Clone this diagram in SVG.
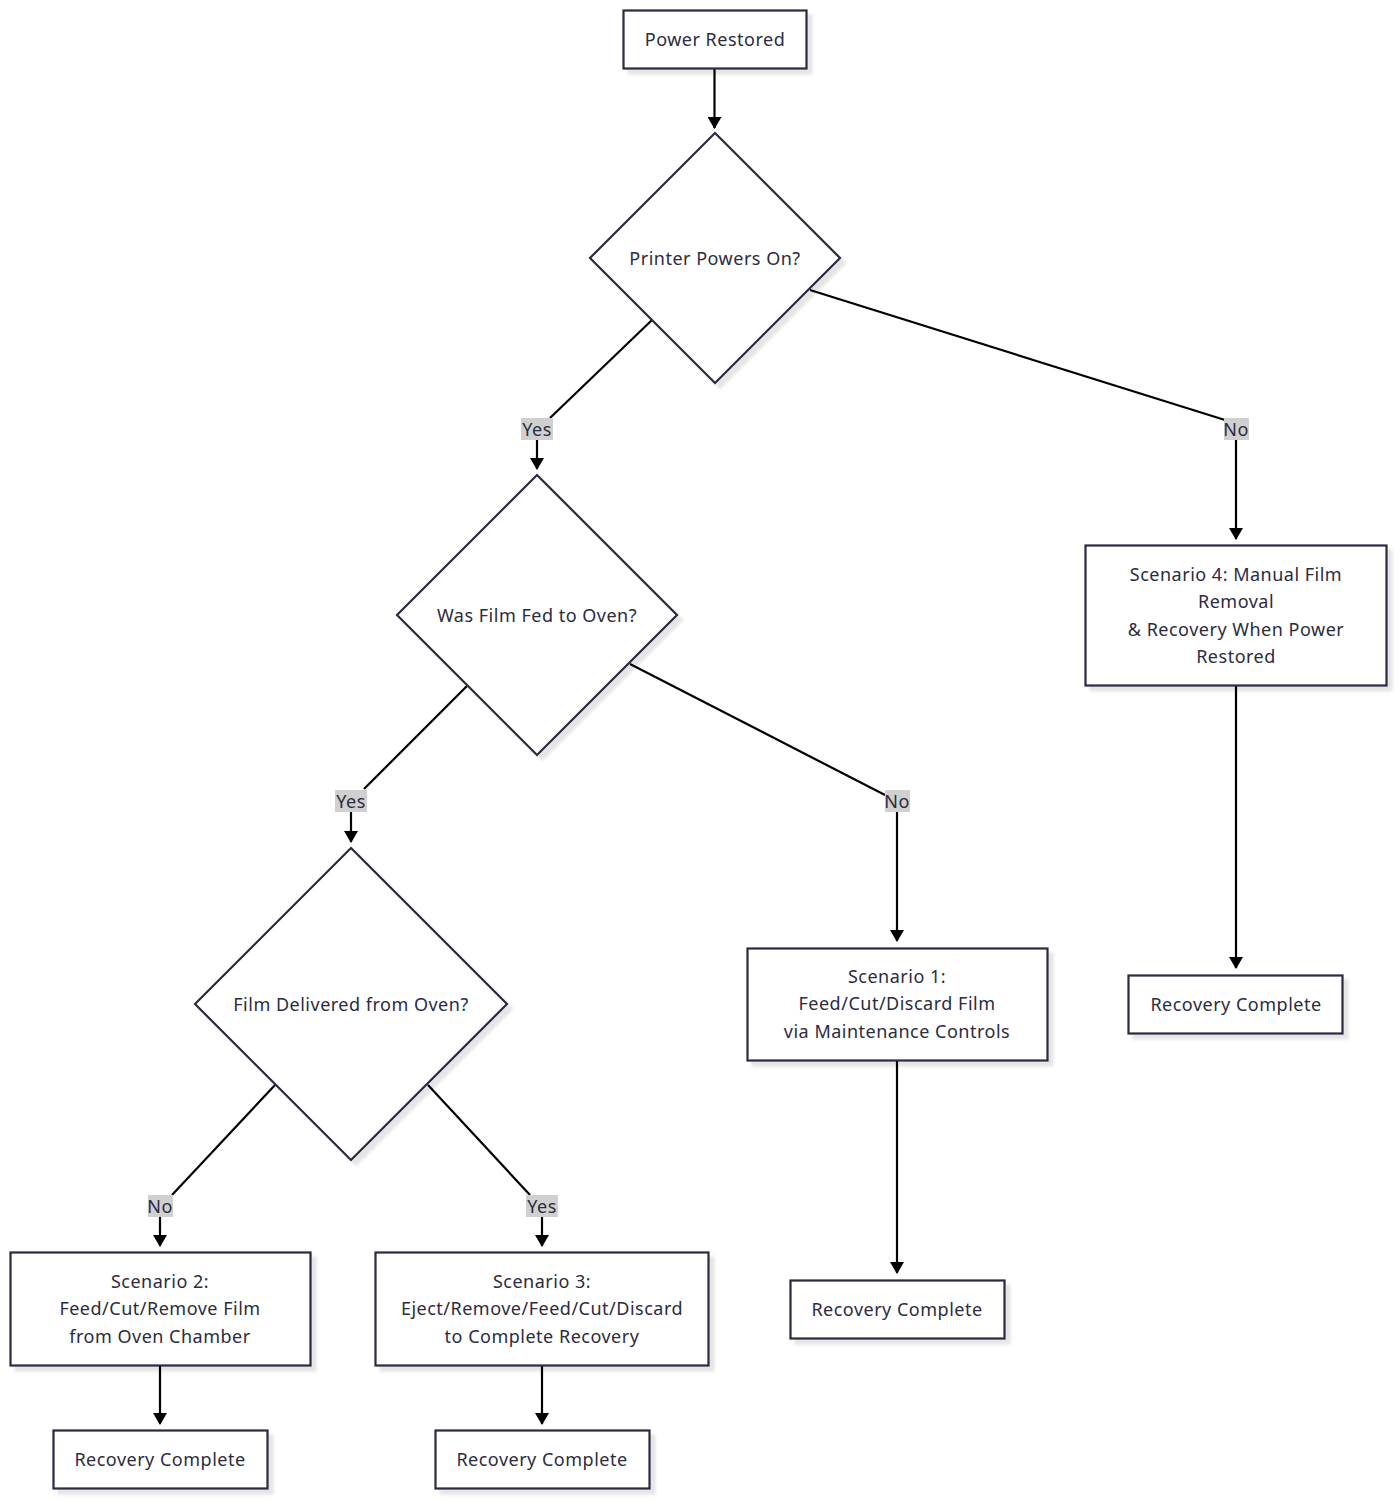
<svg xmlns="http://www.w3.org/2000/svg" width="1400" height="1502" viewBox="0 0 1400 1502">
<style>
.n{fill:#fff;stroke:#2a2940;stroke-width:2.2;filter:url(#sh)}
.t{font-family:"Noto Sans","DejaVu Sans",sans-serif;font-size:18px;letter-spacing:0.5px;fill:#2c2b40;text-anchor:middle;dominant-baseline:central}
.e{fill:none;stroke:#000;stroke-width:2.2}
.lb{fill:#d0d0d0}
</style>
<defs>
<filter id="sh" x="-10%" y="-10%" width="130%" height="130%">
<feDropShadow dx="5" dy="5" stdDeviation="1.5" flood-color="#000" flood-opacity="0.1"/>
</filter>
<marker id="ah" viewBox="0 0 12 14" refX="11" refY="7" markerWidth="12" markerHeight="14" markerUnits="userSpaceOnUse" orient="auto">
<path d="M0,0 L12,7 L0,14 z" fill="#000"/>
</marker>
</defs>
<g id="edges">
<path class="e" d="M714.5,68 V128" marker-end="url(#ah)"/>
<path class="e" d="M652,320 L550,418"/>
<path class="e" d="M537,440 V469" marker-end="url(#ah)"/>
<path class="e" d="M810,290 L1225,420"/>
<path class="e" d="M1236,440 V539" marker-end="url(#ah)"/>
<path class="e" d="M467,686 L364,789"/>
<path class="e" d="M351,812 V842" marker-end="url(#ah)"/>
<path class="e" d="M630,664 L885,795"/>
<path class="e" d="M897,812 V941" marker-end="url(#ah)"/>
<path class="e" d="M1236,685 V968" marker-end="url(#ah)"/>
<path class="e" d="M897,1060 V1273" marker-end="url(#ah)"/>
<path class="e" d="M275,1085 L172,1195"/>
<path class="e" d="M160,1217 V1246" marker-end="url(#ah)"/>
<path class="e" d="M428,1085 L530,1195"/>
<path class="e" d="M542,1217 V1246" marker-end="url(#ah)"/>
<path class="e" d="M160,1365 V1424" marker-end="url(#ah)"/>
<path class="e" d="M542,1365 V1424" marker-end="url(#ah)"/>
</g>
<g id="edge-labels">
<rect class="lb" x="521" y="418" width="32" height="22"/><text class="t" x="537" y="429">Yes</text>
<rect class="lb" x="1224" y="418" width="25" height="22"/><text class="t" x="1236" y="429">No</text>
<rect class="lb" x="335" y="790" width="32" height="22"/><text class="t" x="351" y="801">Yes</text>
<rect class="lb" x="885" y="790" width="25" height="22"/><text class="t" x="897" y="801">No</text>
<rect class="lb" x="148" y="1195" width="25" height="22"/><text class="t" x="160" y="1206">No</text>
<rect class="lb" x="526" y="1195" width="32" height="22"/><text class="t" x="542" y="1206">Yes</text>
</g>
<g id="power-restored"><rect class="n" x="623.5" y="10.5" width="183" height="58"/><text class="t" x="715" y="39">Power Restored</text></g>
<g id="printer-on"><path class="n" d="M715,133 L840,258 L715,383 L590,258 Z"/><text class="t" x="715" y="258">Printer Powers On?</text></g>
<g id="film-fed"><path class="n" d="M537,475 L677,615 L537,755 L397,615 Z"/><text class="t" x="537" y="615">Was Film Fed to Oven?</text></g>
<g id="film-delivered"><path class="n" d="M351,848 L507,1004 L351,1160 L195,1004 Z"/><text class="t" x="351" y="1004">Film Delivered from Oven?</text></g>
<g id="scenario4"><rect class="n" x="1085.5" y="545.5" width="301" height="140"/>
<text class="t" x="1236"><tspan x="1236" y="574">Scenario 4: Manual Film</tspan><tspan x="1236" y="601">Removal</tspan><tspan x="1236" y="629">&amp; Recovery When Power</tspan><tspan x="1236" y="656">Restored</tspan></text></g>
<g id="recovery4"><rect class="n" x="1128.5" y="975.5" width="214" height="58"/><text class="t" x="1236" y="1004">Recovery Complete</text></g>
<g id="scenario1"><rect class="n" x="747.5" y="948.5" width="300" height="112"/>
<text class="t" x="897"><tspan x="897" y="976">Scenario 1:</tspan><tspan x="897" y="1003">Feed/Cut/Discard Film</tspan><tspan x="897" y="1031">via Maintenance Controls</tspan></text></g>
<g id="recovery1"><rect class="n" x="790.5" y="1280.5" width="214" height="58"/><text class="t" x="897" y="1309">Recovery Complete</text></g>
<g id="scenario2"><rect class="n" x="10.5" y="1252.5" width="300" height="113"/>
<text class="t" x="160"><tspan x="160" y="1281">Scenario 2:</tspan><tspan x="160" y="1308">Feed/Cut/Remove Film</tspan><tspan x="160" y="1336">from Oven Chamber</tspan></text></g>
<g id="scenario3"><rect class="n" x="375.5" y="1252.5" width="333" height="113"/>
<text class="t" x="542"><tspan x="542" y="1281">Scenario 3:</tspan><tspan x="542" y="1308">Eject/Remove/Feed/Cut/Discard</tspan><tspan x="542" y="1336">to Complete Recovery</tspan></text></g>
<g id="recovery2"><rect class="n" x="53.5" y="1430.5" width="214" height="58"/><text class="t" x="160" y="1459">Recovery Complete</text></g>
<g id="recovery3"><rect class="n" x="435.5" y="1430.5" width="214" height="58"/><text class="t" x="542" y="1459">Recovery Complete</text></g>
</svg>
